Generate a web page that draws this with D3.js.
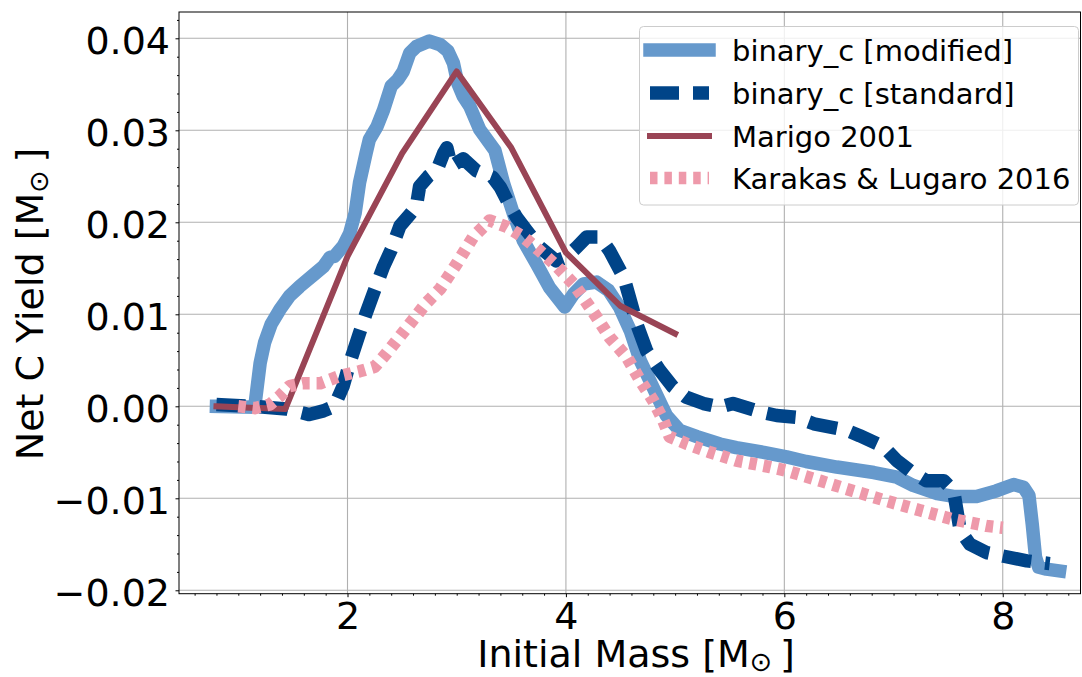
<!DOCTYPE html>
<html>
<head>
<meta charset="utf-8">
<script src="https://cdn.jsdelivr.net/npm/d3@7"></script>
<style>
  html, body { margin: 0; padding: 0; background: #fff; }
  svg { display: block; }
  text { font-family: "DejaVu Sans", sans-serif; fill: #000; }
</style>
</head>
<body>
<svg id="chart" width="1082" height="677"></svg>
<script>
// ---------------- data ----------------
const seriesNames = ["binary_c [modified]", "binary_c [standard]", "Marigo 2001", "Karakas & Lugaro 2016"];

const modifiedMass = [0.80,1.15,1.20,1.24,1.30,1.38,1.47,1.56,1.69,1.78,1.84,1.88,1.96,2.02,2.07,2.11,2.17,2.20,2.27,2.33,2.40,2.46,2.51,2.57,2.63,2.75,2.85,2.92,2.97,3.01,3.06,3.12,3.21,3.35,3.43,3.52,3.61,3.73,3.85,3.99,4.07,4.16,4.28,4.39,4.49,4.59,4.68,4.80,4.92,5.04,5.20,5.41,5.56,5.81,6.02,6.20,6.48,6.82,7.03,7.18,7.40,7.55,7.76,7.94,8.10,8.19,8.24,8.27,8.30,8.33,8.40,8.52];
const modifiedYield = [0.0000,-0.0001,0.0047,0.0069,0.0089,0.0105,0.0120,0.0130,0.0143,0.0152,0.0162,0.0163,0.0174,0.0188,0.0210,0.0243,0.0275,0.0290,0.0304,0.0322,0.0348,0.0355,0.0364,0.0384,0.0391,0.0397,0.0393,0.0386,0.0373,0.0351,0.0337,0.0326,0.0301,0.0278,0.0242,0.0209,0.0180,0.0155,0.0129,0.0108,0.0122,0.0133,0.0135,0.0126,0.0108,0.0082,0.0050,0.0020,-0.0010,-0.0026,-0.0033,-0.0041,-0.0045,-0.0050,-0.0055,-0.0060,-0.0066,-0.0072,-0.0077,-0.0086,-0.0095,-0.0098,-0.0098,-0.0092,-0.0085,-0.0088,-0.0097,-0.0128,-0.0164,-0.0175,-0.0177,-0.0179];

const standardMass = [0.80,1.14,1.44,1.65,1.78,1.88,1.96,2.02,2.10,2.17,2.25,2.33,2.40,2.48,2.56,2.63,2.66,2.74,2.82,2.88,2.91,2.95,3.06,3.18,3.33,3.40,3.46,3.55,3.64,3.76,3.91,4.00,4.10,4.19,4.31,4.40,4.53,4.59,4.65,4.74,4.86,4.98,5.10,5.26,5.41,5.53,5.78,5.93,6.11,6.27,6.57,6.69,6.91,7.03,7.15,7.30,7.46,7.55,7.58,7.61,7.70,7.85,8.01,8.22,8.43];
const standardYield = [0.0002,0.0000,-0.0003,-0.0009,-0.0005,0.0000,0.0022,0.0047,0.0076,0.0101,0.0127,0.0152,0.0170,0.0196,0.0207,0.0217,0.0239,0.0250,0.0257,0.0275,0.0281,0.0261,0.0269,0.0256,0.0249,0.0238,0.0224,0.0205,0.0191,0.0173,0.0158,0.0162,0.0173,0.0184,0.0184,0.0169,0.0140,0.0115,0.0089,0.0060,0.0039,0.0021,0.0010,0.0003,-0.0001,0.0003,-0.0006,-0.0010,-0.0012,-0.0019,-0.0026,-0.0032,-0.0044,-0.0059,-0.0070,-0.0081,-0.0081,-0.0092,-0.0113,-0.0135,-0.0150,-0.0159,-0.0163,-0.0168,-0.0171];

const marigoMass = [0.8,1.0,1.43,2.0,2.5,3.0,3.5,4.0,4.5,5.0];
const marigoYield = [0.0000,-0.0001,-0.0003,0.0163,0.0275,0.0364,0.0281,0.0167,0.0109,0.0079];

const karakasMass = [1.0,1.15,1.29,1.38,1.47,1.59,1.75,1.93,2.11,2.25,2.36,2.48,2.60,2.72,2.85,3.0,3.15,3.27,3.30,3.46,3.61,3.76,3.91,4.07,4.16,4.28,4.40,4.56,4.68,4.80,4.89,4.95,5.11,5.32,5.56,5.87,6.02,6.33,6.63,6.94,7.24,7.55,7.85,8.0];
const karakasYield = [0.0000,-0.0002,0.0002,0.0011,0.0022,0.0025,0.0025,0.0033,0.0038,0.0043,0.0058,0.0076,0.0094,0.0112,0.0128,0.0155,0.0184,0.0198,0.0202,0.0195,0.0184,0.0169,0.0153,0.0133,0.0118,0.0097,0.0075,0.0053,0.0028,0.0006,-0.0015,-0.0033,-0.0041,-0.0050,-0.0059,-0.0066,-0.0070,-0.0081,-0.0092,-0.0103,-0.0113,-0.0123,-0.0130,-0.0132];

const xTicks = [2, 4, 6, 8];
const yTicks = [-0.02, -0.01, 0.00, 0.01, 0.02, 0.03, 0.04];

// ---------------- layout ----------------
const svg = d3.select("#chart");
const L = 179, R = 1080.5, T = 12, B = 593.7;
const x = d3.scaleLinear().domain([0.457, 8.712]).range([L, R]);
const y = d3.scaleLinear().domain([-0.02037, 0.04286]).range([B, T]);

const styles = [
  { color: "#6699CC", width: 13.5, dash: null, cap: "square" },
  { color: "#004488", width: 13.5, dash: "29,14", cap: "butt" },
  { color: "#994455", width: 6, dash: null, cap: "square" },
  { color: "#EE99AA", width: 12.5, dash: "7.5,6.9", cap: "butt" }
];
const series = [
  modifiedMass.map((m, i) => [m, modifiedYield[i]]),
  standardMass.map((m, i) => [m, standardYield[i]]),
  marigoMass.map((m, i) => [m, marigoYield[i]]),
  karakasMass.map((m, i) => [m, karakasYield[i]])
];

svg.append("defs").append("clipPath").attr("id", "clip")
  .append("rect").attr("x", L).attr("y", T).attr("width", R - L).attr("height", B - T);

// grid
const grid = svg.append("g");
grid.selectAll("line.gx").data(xTicks).join("line")
  .attr("x1", d => x(d)).attr("x2", d => x(d)).attr("y1", T).attr("y2", B)
  .attr("stroke", "#b0b0b0").attr("stroke-width", 1.1);
grid.selectAll("line.gy").data(yTicks).join("line")
  .attr("x1", L).attr("x2", R).attr("y1", d => y(d)).attr("y2", d => y(d))
  .attr("stroke", "#b0b0b0").attr("stroke-width", 1.1);

// lines
const line = d3.line().x(d => x(d[0])).y(d => y(d[1]));
const plot = svg.append("g").attr("clip-path", "url(#clip)");
series.forEach((s, i) => {
  const st = styles[i];
  plot.append("path").datum(s)
    .attr("d", line)
    .attr("fill", "none")
    .attr("stroke", st.color)
    .attr("stroke-width", st.width)
    .attr("stroke-linejoin", "round")
    .attr("stroke-linecap", st.cap)
    .attr("stroke-dasharray", st.dash);
});

// spines
svg.append("rect").attr("x", L).attr("y", T).attr("width", R - L).attr("height", B - T)
  .attr("fill", "none").attr("stroke", "#000").attr("stroke-width", 1);

// axes
const fmtY = d3.format(".2f");
const xMinor = d3.range(0.6, 8.71, 0.2).filter(v => Math.abs(v / 2 - Math.round(v / 2)) > 1e-6);
const yMinor = d3.range(-0.020, 0.0429, 0.002).filter(v => Math.abs(v * 100 - Math.round(v * 100)) > 1e-6);

const xAxis = svg.append("g").attr("transform", `translate(0,${B})`)
  .call(d3.axisBottom(x).tickValues(xTicks).tickSize(3.5).tickPadding(5.2).tickFormat(d3.format("d")));
const xAxisMinor = svg.append("g").attr("transform", `translate(0,${B})`)
  .call(d3.axisBottom(x).tickValues(xMinor).tickSize(2).tickFormat(""));
const yAxis = svg.append("g").attr("transform", `translate(${L},0)`)
  .call(d3.axisLeft(y).tickValues(yTicks).tickSize(3.5).tickPadding(5.5).tickFormat(fmtY));
const yAxisMinor = svg.append("g").attr("transform", `translate(${L},0)`)
  .call(d3.axisLeft(y).tickValues(yMinor).tickSize(2).tickFormat(""));

[xAxis, xAxisMinor, yAxis, yAxisMinor].forEach(g => {
  g.select(".domain").remove();
  g.selectAll(".tick line").attr("stroke", "#000").attr("stroke-width", 1);
  g.selectAll("text").attr("font-family", "DejaVu Sans").attr("font-size", 38).attr("fill", "#000");
});
yAxis.selectAll("text").attr("dy", "0.39em");

// axis labels
const xl = svg.append("text").attr("x", 636).attr("y", 667)
  .attr("text-anchor", "middle").attr("font-size", 38);
xl.append("tspan").text("Initial Mass [M");
xl.append("tspan").attr("font-size", 27).attr("dy", 4).text("\u2299");
xl.append("tspan").attr("dy", -4).text("\u2009]");

const yl = svg.append("text").attr("transform", "translate(43,304) rotate(-90)")
  .attr("text-anchor", "middle").attr("font-size", 38);
yl.append("tspan").text("Net C Yield [M");
yl.append("tspan").attr("font-size", 27).attr("dy", 5).text("\u2299");
yl.append("tspan").attr("dy", -5).text("\u2009]");

// legend
const lg = svg.append("g");
lg.append("rect").attr("x", 639.5).attr("y", 26.5).attr("width", 439).attr("height", 178.5)
  .attr("rx", 4).attr("fill", "#fff").attr("fill-opacity", 0.8)
  .attr("stroke", "#cccccc").attr("stroke-width", 1);
const rowY = [50, 93, 136, 178];
seriesNames.forEach((name, i) => {
  const st = styles[i];
  lg.append("line").attr("x1", 650).attr("x2", 709).attr("y1", rowY[i]).attr("y2", rowY[i])
    .attr("stroke", st.color).attr("stroke-width", st.width)
    .attr("stroke-linecap", st.cap).attr("stroke-dasharray", st.dash);
  lg.append("text").attr("x", 732).attr("y", rowY[i] + 10.5).attr("font-size", 29).text(name);
});
</script>
</body>
</html>
